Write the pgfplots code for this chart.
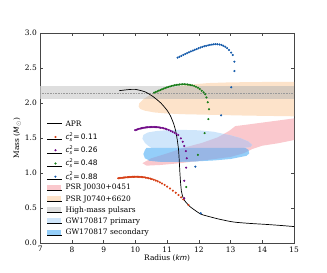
\documentclass[border=0pt]{standalone}
\usepackage{pgfplots}
\pgfplotsset{compat=1.18}
\usepackage{fontspec}
\setmainfont{DejaVu Serif}
\newfontfamily\dvs{DejaVu Sans}
\definecolor{cOr}{RGB}{214,60,18}
\definecolor{cPu}{RGB}{112,10,135}
\definecolor{cGr}{RGB}{25,125,25}
\definecolor{cBl}{RGB}{20,90,170}
\definecolor{pPink}{RGB}{250,200,205}
\definecolor{pOrange}{RGB}{253,227,202}
\definecolor{pGray}{RGB}{222,222,222}
\definecolor{pTan}{RGB}{214,202,190}
\definecolor{pPrim}{RGB}{207,230,251}
\definecolor{pSec}{RGB}{148,206,249}
\definecolor{pLav}{RGB}{205,197,226}
\definecolor{pBP}{RGB}{152,182,229}
\definecolor{axc}{RGB}{70,70,70}
\newcommand{\cs}[1]{{\dvs\itshape c}\rlap{\raisebox{3.3bp}{\fontsize{5}{5}\selectfont\dvs 2}}\raisebox{-1.6bp}{\fontsize{5}{5}\selectfont\dvs\itshape s}{\dvs\,=\,#1}}
\begin{document}
\begin{tikzpicture}
\begin{axis}[
  name=ax,
  scale only axis, width=253.7bp, height=210bp,
  xmin=7, xmax=15, ymin=0, ymax=3,
  xtick={7,8,...,15}, ytick={0,0.5,...,3},
  /pgf/number format/fixed, /pgf/number format/fixed zerofill,
  yticklabel style={/pgf/number format/precision=1},
  xticklabel style={/pgf/number format/precision=0},
  /pgf/number format/assume math mode=true,
  tick align=inside, tick pos=both,
  major tick length=3bp,
  every tick/.style={axc, line width=0.5pt},
  axis line style={axc, line width=0.7pt},
  tick label style={font=\fontsize{7.5}{9}\selectfont},
  label style={font=\fontsize{7.5}{9}\selectfont},
  xlabel={Radius ({\dvs\itshape km})},
  ylabel={Mass ({\dvs\itshape M}$_{\odot}$)},
  xlabel style={yshift=4bp},
  ylabel style={yshift=-3bp},
  legend style={draw=none, fill=none, at={(0.025,0.597)}, anchor=north west,
    font=\fontsize{7.5}{9}\selectfont, row sep=0pt, column sep=3bp,
    inner sep=0pt, cells={anchor=base west}, nodes={inner sep=0pt}},
]
% J0740
\addplot[draw=none, fill=pOrange, forget plot] coordinates {
(15,2.30) (14,2.30) (13,2.295) (12.3,2.285) (11.9,2.27) (11.4,2.245) (10.9,2.195) (10.5,2.125) (10.25,2.055) (10.12,1.995) (10.1,1.95) (10.15,1.915) (10.3,1.89) (10.6,1.865) (11.0,1.85) (11.5,1.84) (12.5,1.83) (13.5,1.82) (15,1.81)} --cycle;
% High-mass pulsars
\addplot[draw=none, fill=pGray, forget plot] coordinates {(7,2.055) (15,2.055) (15,2.243) (7,2.243)} --cycle;
\begin{scope}
\clip (15,2.30) -- (14,2.30) -- (13,2.295) -- (12.3,2.285) -- (11.9,2.27) -- (11.4,2.245) -- (10.9,2.195) -- (10.5,2.125) -- (10.25,2.055) -- (10.12,1.995) -- (10.1,1.95) -- (10.15,1.915) -- (10.3,1.89) -- (10.6,1.865) -- (11.0,1.85) -- (11.5,1.84) -- (12.5,1.83) -- (13.5,1.82) -- (15,1.81) -- cycle;
\addplot[draw=none, fill=pTan, forget plot] coordinates {(7,2.055) (15,2.055) (15,2.243) (7,2.243)} --cycle;
\end{scope}
\addplot[densely dotted, color=black!40, line width=0.6pt, forget plot] coordinates {(7,2.14) (15,2.14)};
% J0030
\addplot[draw=none, fill=pPink, forget plot] coordinates {
(10.22,1.14) (10.5,1.21) (11.0,1.28) (11.6,1.37) (12.1,1.43) (12.6,1.51) (12.95,1.60) (13.15,1.67) (13.5,1.69) (14,1.72) (14.5,1.75) (15,1.78)
(15,1.47) (14.5,1.425) (14,1.39) (13.7,1.345) (13.4,1.28) (13.0,1.23) (12.5,1.20) (11.4,1.14) (10.8,1.115) (10.35,1.105)} --cycle;
% GW primary
\addplot[draw=none, fill=pPrim, forget plot] coordinates {
(10.25,1.545) (10.4,1.58) (10.67,1.60) (11.0,1.612) (11.4,1.617) (12.0,1.61) (12.46,1.59) (12.98,1.54) (13.3,1.50) (13.56,1.45) (13.68,1.40) (13.62,1.37) (13.4,1.36) (10.5,1.36) (10.4,1.39) (10.3,1.43) (10.22,1.49)} --cycle;
% GW secondary
\addplot[draw=none, fill=pSec, forget plot] coordinates {
(10.35,1.36) (13.45,1.36) (13.56,1.33) (13.59,1.28) (13.5,1.245) (13.0,1.20) (12.5,1.18) (12.0,1.168) (11.4,1.16) (10.8,1.16) (10.45,1.175) (10.3,1.21) (10.25,1.27) (10.3,1.33)} --cycle;
\begin{scope}
\clip (10.22,1.14) -- (10.5,1.21) -- (11.0,1.28) -- (11.6,1.37) -- (12.1,1.43) -- (12.6,1.51) -- (12.95,1.60) -- (13.15,1.67) -- (13.5,1.69) -- (14,1.72) -- (14.5,1.75) -- (15,1.78) -- (15,1.47) -- (14.5,1.425) -- (14,1.39) -- (13.7,1.345) -- (13.4,1.28) -- (13.0,1.23) -- (12.5,1.20) -- (11.4,1.14) -- (10.8,1.115) -- (10.35,1.105) -- cycle;
\addplot[draw=none, fill=pLav, forget plot] coordinates {
(10.25,1.545) (10.4,1.58) (10.67,1.60) (11.0,1.612) (11.4,1.617) (12.0,1.61) (12.46,1.59) (12.98,1.54) (13.3,1.50) (13.56,1.45) (13.68,1.40) (13.62,1.37) (13.4,1.36) (10.5,1.36) (10.4,1.39) (10.3,1.43) (10.22,1.49)} --cycle;
\addplot[draw=none, fill=pBP, forget plot] coordinates {
(10.35,1.36) (13.45,1.36) (13.56,1.33) (13.59,1.28) (13.5,1.245) (13.0,1.20) (12.5,1.18) (12.0,1.168) (11.4,1.16) (10.8,1.16) (10.45,1.175) (10.3,1.21) (10.25,1.27) (10.3,1.33)} --cycle;
\end{scope}
% APR
\addplot[black, line width=0.7pt, smooth, tension=0.4, forget plot] coordinates {
(9.49,2.176) (9.75,2.19) (9.99,2.195) (10.3,2.16) (10.56,2.09) (10.8,2.0) (10.99,1.90) (11.1,1.82) (11.2,1.71) (11.27,1.60) (11.32,1.47) (11.36,1.33) (11.38,1.19) (11.40,1.02) (11.42,0.88) (11.45,0.74) (11.50,0.65) (11.56,0.60) (11.72,0.52) (11.9,0.46) (12.05,0.415) (12.14,0.40) (12.6,0.345) (13.09,0.30) (13.6,0.28) (14.14,0.265) (14.6,0.25) (15,0.235)};
% c=0.11
\addplot[only marks, mark=*, mark size=0.85pt, cOr, forget plot] coordinates {
(9.46,0.925) (9.50,0.927) (9.54,0.930) (9.58,0.932) (9.62,0.934) (9.66,0.936) (9.70,0.938) (9.74,0.940) (9.78,0.941) (9.82,0.943) (9.86,0.944) (9.90,0.945) (9.94,0.945) (9.98,0.946) (10.02,0.946) (10.06,0.946) (10.10,0.945) (10.14,0.944) (10.18,0.943) (10.22,0.941) (10.27,0.938) (10.32,0.934) (10.37,0.930) (10.42,0.925) (10.47,0.919) (10.52,0.913) (10.58,0.904) (10.64,0.894) (10.70,0.882) (10.77,0.867) (10.84,0.850) (10.92,0.829) (11.00,0.806) (11.09,0.778) (11.18,0.748) (11.27,0.717) (11.36,0.685) (11.44,0.652) (11.51,0.624) (11.67,0.543)};
% c=0.26
\addplot[only marks, mark=*, mark size=0.85pt, cPu, forget plot] coordinates {
(9.99,1.612) (10.03,1.618) (10.07,1.624) (10.11,1.630) (10.15,1.635) (10.19,1.640) (10.23,1.644) (10.27,1.647) (10.31,1.650) (10.35,1.652) (10.39,1.654) (10.43,1.655) (10.47,1.656) (10.51,1.657) (10.55,1.657) (10.59,1.657) (10.63,1.656) (10.67,1.655) (10.71,1.653) (10.75,1.651) (10.79,1.648) (10.84,1.644) (10.89,1.639) (10.94,1.633) (10.99,1.625) (11.05,1.615) (11.11,1.603) (11.17,1.590) (11.23,1.575) (11.29,1.560) (11.35,1.543) (11.43,1.495) (11.49,1.447) (11.54,1.386) (11.59,1.314) (11.62,1.21) (11.60,1.076) (11.54,0.89) (11.54,0.64)};
% c=0.48
\addplot[only marks, mark=*, mark size=0.85pt, cGr, forget plot] coordinates {
(10.59,2.147) (10.64,2.157) (10.69,2.167) (10.74,2.177) (10.79,2.187) (10.84,2.196) (10.89,2.205) (10.94,2.214) (10.99,2.222) (11.04,2.230) (11.09,2.237) (11.14,2.243) (11.19,2.249) (11.24,2.254) (11.29,2.258) (11.34,2.261) (11.39,2.264) (11.44,2.266) (11.49,2.267) (11.54,2.267) (11.59,2.266) (11.64,2.264) (11.69,2.261) (11.74,2.257) (11.79,2.252) (11.85,2.244) (11.91,2.233) (11.97,2.218) (12.03,2.200) (12.09,2.176) (12.15,2.153) (12.20,2.125) (12.24,2.08) (12.28,2.01) (12.32,1.91) (12.30,1.77) (12.18,1.57) (11.97,1.26) (11.60,0.80)};
% c=0.88
\addplot[only marks, mark=*, mark size=0.85pt, cBl, forget plot] coordinates {
(11.33,2.648) (11.39,2.661) (11.45,2.674) (11.51,2.687) (11.57,2.700) (11.63,2.712) (11.69,2.725) (11.75,2.737) (11.81,2.749) (11.87,2.760) (11.93,2.771) (11.99,2.782) (12.05,2.792) (12.11,2.801) (12.17,2.810) (12.23,2.817) (12.29,2.824) (12.35,2.830) (12.41,2.835) (12.47,2.838) (12.53,2.840) (12.59,2.839) (12.65,2.836) (12.71,2.829) (12.77,2.818) (12.83,2.803) (12.89,2.783) (12.95,2.757) (13.02,2.72) (13.07,2.686) (13.12,2.59) (13.12,2.457) (13.02,2.224) (12.70,1.824) (11.89,1.09) (12.06,0.424)};
% legend
\addlegendimage{legend image code/.code={\draw[black, line width=0.7pt] (0bp,2.5bp)--(15bp,2.5bp);}}
\addlegendentry[text height=8.5bp, text depth=4.7bp]{APR}
\addlegendimage{legend image code/.code={\fill[cOr] (8.3bp,2.5bp) circle (0.85pt); \path (0,0)--(15bp,0);}}
\addlegendentry[text height=8.5bp, text depth=4.7bp]{\cs{0.11}}
\addlegendimage{legend image code/.code={\fill[cPu] (8.3bp,2.5bp) circle (0.85pt); \path (0,0)--(15bp,0);}}
\addlegendentry[text height=8.5bp, text depth=4.7bp]{\cs{0.26}}
\addlegendimage{legend image code/.code={\fill[cGr] (8.3bp,2.5bp) circle (0.85pt); \path (0,0)--(15bp,0);}}
\addlegendentry[text height=8.5bp, text depth=4.7bp]{\cs{0.48}}
\addlegendimage{legend image code/.code={\fill[cBl] (8.3bp,2.5bp) circle (0.85pt); \path (0,0)--(15bp,0);}}
\addlegendentry[text height=8.5bp, text depth=4.7bp]{\cs{0.88}}
\addlegendimage{legend image code/.code={\fill[pPink] (0bp,0bp) rectangle (13.3bp,5bp); \path (0,0)--(15bp,0);}}
\addlegendentry[text height=5.9bp, text depth=5.4bp]{PSR J0030+0451}
\addlegendimage{legend image code/.code={\fill[pOrange] (0bp,0bp) rectangle (13.3bp,5bp); \path (0,0)--(15bp,0);}}
\addlegendentry[text height=5.9bp, text depth=5.4bp]{PSR J0740+6620}
\addlegendimage{legend image code/.code={\fill[pGray] (0bp,0bp) rectangle (13.3bp,5bp); \path (0,0)--(15bp,0);}}
\addlegendentry[text height=5.9bp, text depth=5.4bp]{High-mass pulsars}
\addlegendimage{legend image code/.code={\fill[pPrim] (0bp,0bp) rectangle (13.3bp,5bp); \path (0,0)--(15bp,0);}}
\addlegendentry[text height=5.9bp, text depth=5.4bp]{GW170817 primary}
\addlegendimage{legend image code/.code={\fill[pSec] (0bp,0bp) rectangle (13.3bp,5bp); \path (0,0)--(15bp,0);}}
\addlegendentry[text height=5.9bp, text depth=5.4bp]{GW170817 secondary}
\end{axis}
\pgfresetboundingbox
\path ([xshift=-40.3bp,yshift=-30bp]ax.south west) rectangle ([xshift=33bp,yshift=33bp]ax.north east);
\end{tikzpicture}
\end{document}
